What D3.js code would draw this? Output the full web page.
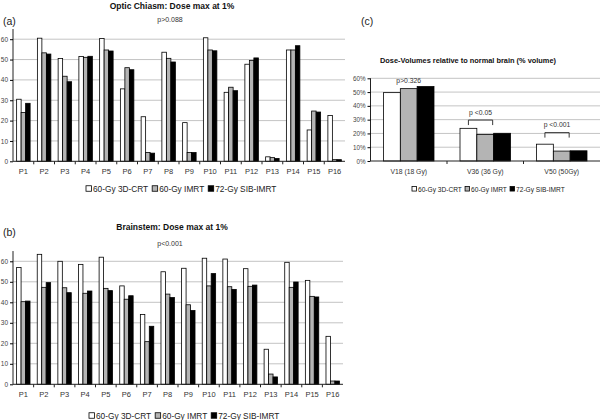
<!DOCTYPE html>
<html>
<head>
<meta charset="utf-8">
<script src="https://cdn.jsdelivr.net/npm/d3@7"></script>
<style>
  body { margin: 0; background: #fff; }
  svg { display: block; font-family: "Liberation Sans", Arial, sans-serif; }
</style>
</head>
<body>
<svg id="canvas" width="600" height="420"></svg>
<script>
const width = 600;
const height = 420;

const patients = ["P1","P2","P3","P4","P5","P6","P7","P8","P9","P10","P11","P12","P13","P14","P15","P16"];
const series = ["60-Gy 3D-CRT", "60-Gy IMRT", "72-Gy SIB-IMRT"];
const fills = ["#ffffff", "#b4b4b4", "#000000"];

// (a) optic chiasm, dose max at 1% (Gy)
const opticCRT  = [30.5, 60.5, 50.5, 51.5, 60.3, 35.6, 21.9, 53.6, 19, 60.7, 33.9, 47.7, 2.2, 54.7, 15.4, 22.5];
const opticIMRT = [24, 53.3, 41.8, 51.1, 54.7, 46, 4.3, 50.6, 4.3, 54.7, 36.4, 49.6, 1.8, 54.7, 24.7, 0.8];
const opticSIB  = [28.5, 52.7, 39.1, 51.6, 54.2, 45, 4, 48.8, 4.3, 54.3, 34.7, 50.8, 1.4, 56.8, 24.2, 0.8];

// (b) brainstem, dose max at 1% (Gy)
const stemCRT  = [57, 63.4, 60, 58.5, 62, 48, 34.1, 54.9, 56.6, 61.5, 61.1, 56.4, 17.1, 59.5, 50.7, 23.4];
const stemIMRT = [40.3, 47.3, 47.1, 44.4, 46.8, 41.5, 20.8, 44, 38.8, 48, 47.6, 47.8, 5, 47.3, 42.9, 1.6];
const stemSIB  = [40.6, 49.6, 44.7, 45.5, 45.7, 43.2, 28.3, 42.3, 36, 54, 46.3, 48.4, 3.6, 49.9, 42.6, 1.6];

const doseTicks = [0, 10, 20, 30, 40, 50, 60];

// (c) dose-volumes relative to normal brain (%)
const volCategories = ["V18 (18 Gy)", "V36 (36 Gy)", "V50 (50Gy)"];
const volCRT  = [49.6, 23.7, 12.2];
const volIMRT = [52.5, 19.2, 7.2];
const volSIB  = [54, 20.1, 7.4];
const volTicks = [0, 10, 20, 30, 40, 50, 60];
const pLabels = ["p>0.326", "p <0.05", "p <0.001"];
const pLevel = [56.6, 29.7, 20.6];
const pBracket = [false, true, true];

const svg = d3.select("#canvas");

function drawDosePanel(cfg){
    const g = svg.append("g");
    const rows = cfg.values;

    const x0 = d3.scaleBand().domain(patients)
        .range([cfg.left, cfg.right])
        .paddingInner(0.35).paddingOuter(0.175);
    const x1 = d3.scaleBand().domain(series).range([0, x0.bandwidth()]);
    const y = d3.scaleLinear().domain([0, 65]).range([cfg.zero, cfg.zero - 65 * cfg.pxPerUnit]);

    // gridlines
    g.append("g").selectAll("line")
        .data(doseTicks.filter(d => d > 0))
        .join("line")
        .attr("x1", cfg.left).attr("x2", cfg.right)
        .attr("y1", d => y(d)).attr("y2", d => y(d))
        .attr("stroke", "#c4c4c4").attr("stroke-width", 1);

    // bars
    series.forEach((s, si) => {
        g.append("g").selectAll("rect")
            .data(patients.map((p, i) => ({p: p, v: rows[si][i]})))
            .join("rect")
            .attr("x", d => x0(d.p) + x1(s))
            .attr("y", d => y(d.v))
            .attr("width", x1.bandwidth())
            .attr("height", d => y(0) - y(d.v))
            .attr("fill", fills[si])
            .attr("stroke", "#000")
            .attr("stroke-width", 0.8);
    });

    // y axis
    const yAxis = g.append("g")
        .attr("transform", `translate(${cfg.left},0)`)
        .call(d3.axisLeft(y).tickValues(doseTicks).tickSize(3).tickPadding(2));
    yAxis.select(".domain").attr("d", `M0,${y(65)}V${y(0)}`).attr("stroke", "#222");
    yAxis.selectAll("text").attr("font-size", 6.5).attr("fill", "#444").attr("font-family", null);

    // x axis
    const half = (x0.step() - x0.bandwidth()) / 2;
    const xg = g.append("g");
    xg.append("line")
        .attr("x1", cfg.left).attr("x2", cfg.right)
        .attr("y1", y(0)).attr("y2", y(0))
        .attr("stroke", "#222");
    xg.selectAll(".tk")
        .data(patients.slice(1))
        .join("line")
        .attr("x1", d => x0(d) - half).attr("x2", d => x0(d) - half)
        .attr("y1", y(0)).attr("y2", y(0) + 3)
        .attr("stroke", "#222");
    xg.selectAll("text")
        .data(patients)
        .join("text")
        .attr("x", d => x0(d) + x0.bandwidth() / 2)
        .attr("y", y(0) + 13)
        .attr("text-anchor", "middle")
        .attr("font-size", 7.5)
        .attr("fill", "#333")
        .text(d => d);

    // titles
    g.append("text").attr("x", 3).attr("y", cfg.labelY)
        .attr("font-size", 10.5).attr("fill", "#222").text(cfg.label);
    g.append("text").attr("x", 172).attr("y", cfg.titleY)
        .attr("text-anchor", "middle").attr("font-size", 8.5).attr("font-weight", "bold")
        .attr("fill", "#111").text(cfg.title);
    g.append("text").attr("x", 170).attr("y", cfg.pY)
        .attr("text-anchor", "middle").attr("font-size", 7).attr("fill", "#333").text(cfg.p);

    drawLegend(cfg.legendX, cfg.legendY, 8.3, 5.5, 10);
}

function drawLegend(x, y, fontSize, box, gap){
    const lg = svg.append("g");
    let cx = x;
    series.forEach((s, i) => {
        lg.append("rect")
            .attr("x", cx).attr("y", y - box / 2 - 0.5)
            .attr("width", box).attr("height", box)
            .attr("fill", fills[i]).attr("stroke", "#000").attr("stroke-width", 0.8);
        const t = lg.append("text")
            .attr("x", cx + box + 1.5).attr("y", y + fontSize * 0.35)
            .attr("font-size", fontSize).attr("fill", "#222").text(s);
        cx += box + 1.5 + t.node().getComputedTextLength() + gap * 0.4;
    });
}

drawDosePanel({
    values: [opticCRT, opticIMRT, opticSIB],
    left: 13, right: 345, zero: 161.3, pxPerUnit: 2.035,
    label: "(a)", labelY: 25,
    title: "Optic Chiasm: Dose max at 1%", titleY: 8.5,
    p: "p>0.088", pY: 21.5,
    legendX: 86, legendY: 189
});

drawDosePanel({
    values: [stemCRT, stemIMRT, stemSIB],
    left: 13, right: 343, zero: 384.3, pxPerUnit: 2.05,
    label: "(b)", labelY: 236,
    title: "Brainstem: Dose max at 1%", titleY: 230,
    p: "p<0.001", pY: 245.5,
    legendX: 89, legendY: 416
});

// panel (c)
(function(){
    const g = svg.append("g");
    const left = 370.5, right = 600, zero = 161, top60 = 78.3;
    const rows = [volCRT, volIMRT, volSIB];

    const x0 = d3.scaleBand().domain(volCategories).range([left, right])
        .paddingInner(0.34).paddingOuter(0.17);
    const x1 = d3.scaleBand().domain(series).range([0, x0.bandwidth()]);
    const y = d3.scaleLinear().domain([0, 60]).range([zero, top60]);

    g.append("g").selectAll("line")
        .data(volTicks.filter(d => d > 0))
        .join("line")
        .attr("x1", left).attr("x2", right)
        .attr("y1", d => y(d)).attr("y2", d => y(d))
        .attr("stroke", "#c4c4c4");

    series.forEach((s, si) => {
        g.append("g").selectAll("rect")
            .data(volCategories.map((c, i) => ({c: c, v: rows[si][i]})))
            .join("rect")
            .attr("x", d => x0(d.c) + x1(s))
            .attr("y", d => y(d.v))
            .attr("width", x1.bandwidth())
            .attr("height", d => y(0) - y(d.v))
            .attr("fill", fills[si])
            .attr("stroke", "#000")
            .attr("stroke-width", 0.8);
    });

    const yAxis = g.append("g")
        .attr("transform", `translate(${left},0)`)
        .call(d3.axisLeft(y).tickValues(volTicks).tickSize(3).tickPadding(2).tickFormat(d => d + "%"));
    yAxis.select(".domain").attr("d", `M0,${y(60)}V${y(0)}`).attr("stroke", "#222");
    yAxis.selectAll("text").attr("font-size", 6.3).attr("fill", "#444").attr("font-family", null);

    const half = (x0.step() - x0.bandwidth()) / 2;
    g.append("line").attr("x1", left).attr("x2", right)
        .attr("y1", y(0)).attr("y2", y(0)).attr("stroke", "#222");
    g.selectAll(".tk").data(volCategories.slice(1)).join("line")
        .attr("x1", d => x0(d) - half).attr("x2", d => x0(d) - half)
        .attr("y1", y(0)).attr("y2", y(0) + 3).attr("stroke", "#222");
    g.selectAll(".xl").data(volCategories).join("text")
        .attr("x", d => x0(d) + x0.bandwidth() / 2)
        .attr("y", y(0) + 12.5)
        .attr("text-anchor", "middle").attr("font-size", 6.8).attr("fill", "#333")
        .text(d => d);

    // p-value annotations
    volCategories.forEach((c, i) => {
        if (pBracket[i]) {
            const bx1 = x0(c) + x1.bandwidth() / 2;
            const bx2 = x0(c) + x1(series[1]) + x1.bandwidth() - 1;
            const by = y(pLevel[i]);
            g.append("path")
                .attr("d", `M${bx1},${by + 5}V${by}H${bx2}V${by + 5}`)
                .attr("fill", "none").attr("stroke", "#222").attr("stroke-width", 0.9);
            g.append("text").attr("x", (bx1 + bx2) / 2).attr("y", by - 5.5)
                .attr("text-anchor", "middle").attr("font-size", 6.8).attr("fill", "#333")
                .text(pLabels[i]);
        } else {
            g.append("text").attr("x", x0(c) + x0.bandwidth() / 2).attr("y", y(pLevel[i]))
                .attr("text-anchor", "middle").attr("font-size", 6.8).attr("fill", "#333")
                .text(pLabels[i]);
        }
    });

    g.append("text").attr("x", 361).attr("y", 25)
        .attr("font-size", 10.5).attr("fill", "#222").text("(c)");
    g.append("text").attr("x", 468).attr("y", 62.5)
        .attr("text-anchor", "middle").attr("font-size", 7.4).attr("font-weight", "bold")
        .attr("fill", "#111").text("Dose-Volumes relative to normal brain (% volume)");

    drawLegend(412, 189.3, 6.6, 4.5, 8);
})();
</script>
</body>
</html>
